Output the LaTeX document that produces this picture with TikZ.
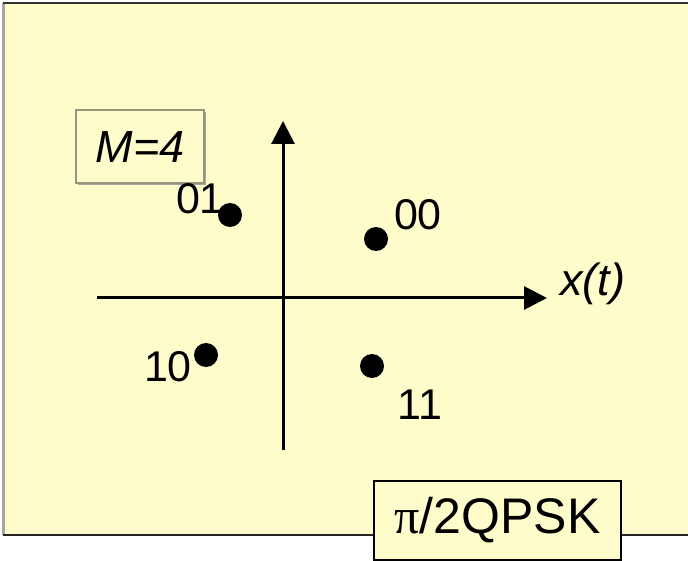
\documentclass[tikz,border=0pt]{standalone}
\usepackage{fontspec}
\setmainfont{Liberation Sans}
\newfontfamily\serifpi{Liberation Serif}
\usetikzlibrary{arrows.meta}
\definecolor{panel}{RGB}{255,252,204}
\definecolor{boxedge}{RGB}{150,150,128}
\begin{document}
\begin{tikzpicture}[x=1pt,y=-1pt,
  dot/.style={circle,fill=black,inner sep=0pt,minimum size=24pt},
  lbl/.style={font=\fontsize{43}{43}\selectfont,inner sep=0pt},
  axis/.style={line width=3pt,-{Triangle[length=23pt,width=23pt]}},
  tagbox/.style={draw=black,line width=2pt,fill=panel,inner sep=0pt}]
\useasboundingbox (0,0) rectangle (688,561);
\fill[white] (0,0) rectangle (688,561);
% panel
\fill[panel] (3,3) rectangle (700,535);
\draw[black!35,line width=3pt] (3,3) -- (3,535);
\draw[black!80,line width=2.5pt] (3,3) -- (700,3);
\draw[black!85,line width=2.5pt] (3,535) -- (700,535);
% M=4 box with shadow
\fill[black!35] (78,112) rectangle (206,185);
\node[draw=boxedge,line width=1.5pt,fill=panel,minimum width=128pt,minimum height=73pt,inner sep=0pt] (mbox) at (140,146.5) {};
\node[font=\fontsize{45}{45}\selectfont\itshape,inner sep=0pt,anchor=base] (mtext) at (140,163) {M=4};
% axes
\coordinate (yb) at (283,450);
\coordinate (yt) at (283,121);
\coordinate (xl) at (97,298);
\coordinate (xr) at (547,298);
\draw[axis] (yb) -- (yt);
\draw[axis] (xl) -- (xr);
\node[font=\fontsize{45}{45}\selectfont\itshape,inner sep=0pt,anchor=base west] (xlab) at (560,296) {x(t)};
% constellation points
\node[dot] (p01) at (230,215) {};
\node[dot] (p00) at (376,239) {};
\node[dot] (p10) at (206,355) {};
\node[dot] (p11) at (372,366) {};
\node[lbl] (l01) at (200,199) {01};
\node[lbl] (l00) at (418,215) {00};
\node[lbl] (l10) at (168,367) {10};
\node[lbl] (l11) at (420,405) {11};
% pi/2 QPSK box
\node[tagbox,minimum width=247pt,minimum height=79pt,font=\fontsize{50}{50}\selectfont] (qpsk) at (497.5,520.5) {{\serifpi π}/2QPSK};
\end{tikzpicture}
\end{document}
